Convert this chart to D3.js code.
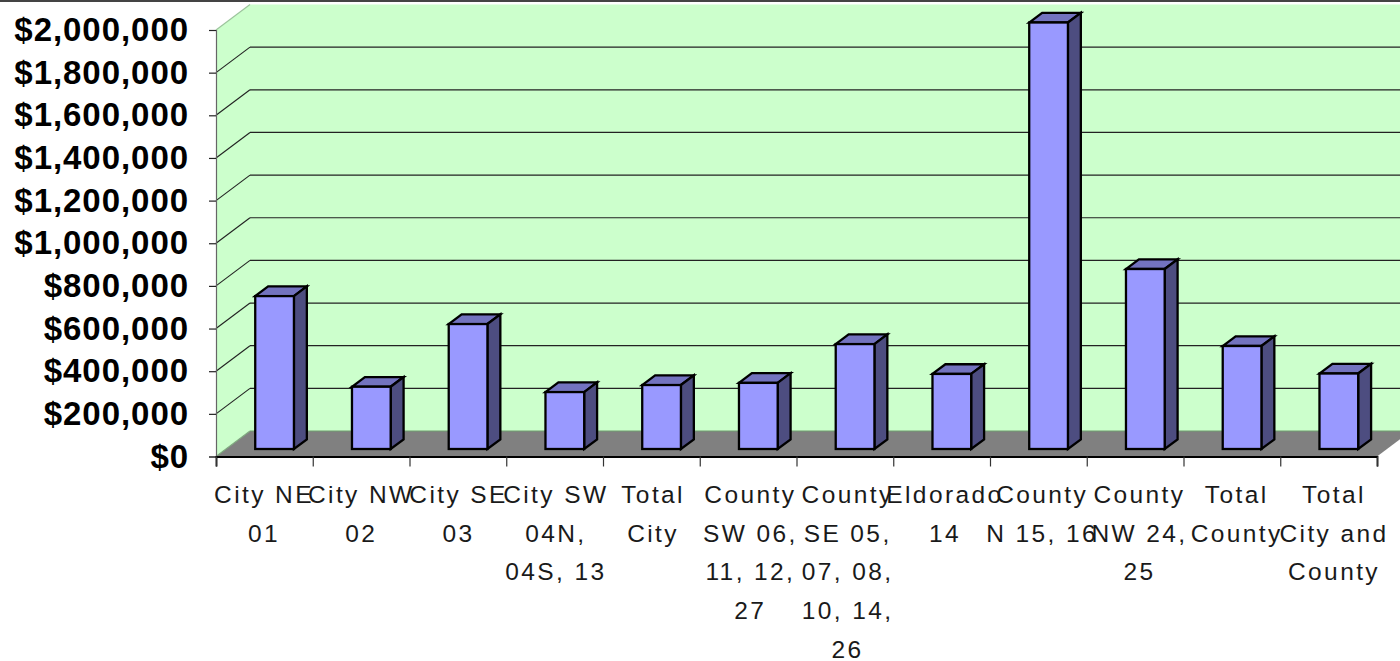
<!DOCTYPE html>
<html>
<head>
<meta charset="utf-8">
<style>
  html, body { margin: 0; padding: 0; background: #fff; }
  svg { display: block; }
  text { font-family: "Liberation Sans", Arial, sans-serif; }
</style>
</head>
<body>
<svg></svg>
<script src="https://d3js.org/d3.v7.min.js"></script>
<script>
var categories = [
  ["City NE", "01"],
  ["City NW", "02"],
  ["City SE", "03"],
  ["City SW", "04N,", "04S, 13"],
  ["Total", "City"],
  ["County", "SW 06,", "11, 12,", "27"],
  ["County", "SE 05,", "07, 08,", "10, 14,", "26"],
  ["Eldorado", "14"],
  ["County", "N 15, 16"],
  ["County", "NW 24,", "25"],
  ["Total", "County"],
  ["Total", "City and", "County"]
];
var values = [717000, 292000, 586000, 267000, 300000, 310000, 492000, 352000, 2000000, 844000, 483000, 354000];
var yTicks = [0, 200000, 400000, 600000, 800000, 1000000, 1200000, 1400000, 1600000, 1800000, 2000000];

var width = 1400, height = 661;
var plotLeft = 216, plotRight = 1377, plotBottom = 456.5, plotTop = 30;

// 奥行き(3D風の斜め方向)
var depthX = 34, depthY = -25.5;
var barFront = 0.3, barSide = 0.38;

var svg = d3.select("svg").attr("width", width).attr("height", height);

var y = d3.scaleLinear().domain([0, 2000000]).range([plotBottom, plotTop]);
var x = d3.scaleBand().domain(d3.range(categories.length)).range([plotLeft, plotRight]).paddingInner(0.6).paddingOuter(0.3);
var xTick = d3.scaleLinear().domain([0, categories.length]).range([plotLeft, plotRight]);
// ラベルの間隔は目盛りより少し広い
var xLabel = d3.scaleLinear().domain([0, categories.length - 1]).range([264, 1334]);

// 上端の線
svg.append("rect").attr("x", 0).attr("y", 0).attr("width", width).attr("height", 2).attr("fill", "#444");

function pts(a) { return a.map(function(p) { return p.join(","); }).join(" "); }

// 背面の壁と左の壁
svg.append("rect")
    .attr("x", plotLeft + depthX).attr("y", plotTop + depthY)
    .attr("width", width - plotLeft - depthX).attr("height", plotBottom - plotTop)
    .attr("fill", "#ccffcc");
svg.append("polygon")
    .attr("points", pts([[plotLeft, plotTop], [plotLeft + depthX, plotTop + depthY], [plotLeft + depthX, plotBottom + depthY], [plotLeft, plotBottom]]))
    .attr("fill", "#ccffcc");

// 床
svg.append("polygon")
    .attr("points", pts([[plotLeft, plotBottom], [plotRight, plotBottom], [plotRight + depthX, plotBottom + depthY], [plotLeft + depthX, plotBottom + depthY]]))
    .attr("fill", "#808080");

// グリッド線
var grid = svg.append("g").selectAll("g").data(yTicks.filter(function(d) { return d > 0 && d < 2000000; })).enter().append("g");
grid.append("line")
    .attr("x1", plotLeft + depthX).attr("x2", width)
    .attr("y1", function(d) { return y(d) + depthY; })
    .attr("y2", function(d) { return y(d) + depthY; })
    .attr("stroke", "#222").attr("stroke-width", 1.2);
grid.append("line")
    .attr("x1", plotLeft).attr("x2", plotLeft + depthX)
    .attr("y1", function(d) { return y(d); })
    .attr("y2", function(d) { return y(d) + depthY; })
    .attr("stroke", "#222").attr("stroke-width", 1.1);

// 上端の斜め線(薄い)
svg.append("line")
    .attr("x1", plotLeft).attr("x2", plotLeft + depthX).attr("y1", plotTop).attr("y2", plotTop + depthY)
    .attr("stroke", "#9cc49c").attr("stroke-width", 1.2);
svg.append("line")
    .attr("x1", plotLeft).attr("x2", plotLeft + depthX).attr("y1", plotBottom).attr("y2", plotBottom + depthY)
    .attr("stroke", "#7fa87f").attr("stroke-width", 1.2);
svg.append("line")
    .attr("x1", plotLeft + depthX).attr("x2", plotRight + depthX).attr("y1", plotBottom + depthY).attr("y2", plotBottom + depthY)
    .attr("stroke", "#6f9f6f").attr("stroke-width", 1);

// 棒
var shiftX = depthX * barFront, shiftY = -7.5;
var sideX = depthX * barSide, sideY = depthY * barSide;
var bars = svg.append("g").selectAll("g").data(values).enter().append("g")
    .attr("stroke", "#000").attr("stroke-width", 2.3).attr("stroke-linejoin", "miter");

function barX(i) { return x(i) + shiftX; }
function barY(d) { return y(d) + shiftY; }
var base = plotBottom + shiftY;

bars.append("polygon") // 上面
    .attr("fill", "#7373bf")
    .attr("points", function(d, i) {
      var l = barX(i), r = l + x.bandwidth(), t = barY(d);
      return pts([[l, t], [r, t], [r + sideX, t + sideY], [l + sideX, t + sideY]]);
    });
bars.append("polygon") // 側面
    .attr("fill", "#4d4d80")
    .attr("points", function(d, i) {
      var r = barX(i) + x.bandwidth(), t = barY(d);
      return pts([[r, t], [r + sideX, t + sideY], [r + sideX, base + sideY], [r, base]]);
    });
bars.append("rect") // 正面
    .attr("fill", "#9999ff")
    .attr("x", function(d, i) { return barX(i); })
    .attr("y", function(d) { return barY(d); })
    .attr("width", x.bandwidth())
    .attr("height", function(d) { return base - barY(d); });

// Y軸
var yAxis = svg.append("g").attr("transform", "translate(" + plotLeft + ",0)")
    .call(d3.axisLeft(y).tickValues(yTicks).tickFormat(d3.format("$,")).tickSize(7).tickPadding(20));
yAxis.select(".domain").attr("stroke", "#666").attr("stroke-width", 1.2);
yAxis.selectAll(".tick line").attr("stroke", "#222").attr("stroke-width", 1.2);
yAxis.selectAll("text")
    .attr("fill", "#000")
    .style("font-family", "'Liberation Sans', Arial, sans-serif")
    .style("font-size", "33px").style("font-weight", "bold").style("letter-spacing", "0.95px");

// X軸
var xAxis = svg.append("g").attr("transform", "translate(0," + plotBottom + ")")
    .call(d3.axisBottom(xTick).ticks(categories.length).tickFormat("").tickSize(10));
xAxis.select(".domain").attr("stroke", "#000").attr("stroke-width", 1.8);
xAxis.selectAll(".tick line").attr("stroke", "#333").attr("stroke-width", 1.2);

// カテゴリ名(複数行)
var labels = svg.append("g").selectAll("text").data(categories).enter().append("text")
    .attr("text-anchor", "middle")
    .attr("fill", "#1a1a1a")
    .style("font-size", "24.5px").style("letter-spacing", "2.4px");
labels.selectAll("tspan").data(function(d, i) {
      return d.map(function(s) { return {s: s, i: i}; });
    }).enter().append("tspan")
    .attr("x", function(d) { return xLabel(d.i); })
    .attr("y", function(d, j) { return 503 + j * 38.7; })
    .text(function(d) { return d.s; });
</script>
</body>
</html>
